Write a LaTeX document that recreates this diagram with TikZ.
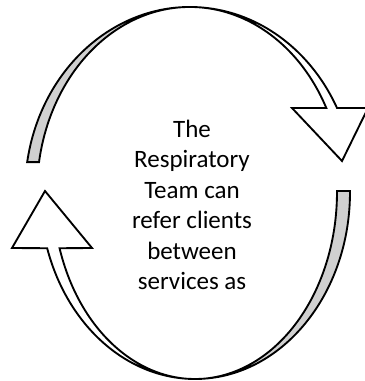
\documentclass[tikz,border=0pt]{standalone}
\usepackage{fontspec}
\setmainfont{Carlito}
\usepackage{tikz}
\definecolor{bandgray}{RGB}{208,208,208}

\begin{document}
\begin{tikzpicture}[x=0.75pt,y=-0.75pt,
  ribbon/.style={draw=black,line width=1.4pt,line join=miter},
  sideband/.style={fill=bandgray},
  every text node part/.style={align=center}]
  \fill[white] (0,0) rectangle (364,381);
  \useasboundingbox (0,0) rectangle (364,381);
  \coordinate (c1) at (190,192);
  \coordinate (c2) at (195,192);

  % upper arrow, left to right
  \fill[sideband] (c1) ++(-170.7:165 and 185)
    arc[start angle=-170.7,end angle=-90,x radius=165,y radius=185]
    arc[start angle=-90,end angle=-170.7,x radius=153,y radius=185] -- cycle;
  \draw[ribbon] (c1) ++(-170.7:165 and 185)
    arc[start angle=-170.7,end angle=-27,x radius=165,y radius=185]
    -- (368,108) -- (342,161) -- (292,108)
    -- ([shift={(c1)}]-27:153 and 185)
    arc[start angle=-27,end angle=-170.7,x radius=153,y radius=185] -- cycle;

  % lower arrow, right to left
  \fill[sideband] (c2) ++(-0.3:155 and 187)
    arc[start angle=-0.3,end angle=90,x radius=155,y radius=187]
    arc[start angle=90,end angle=-0.3,x radius=142,y radius=187] -- cycle;
  \draw[ribbon] (c2) ++(-0.3:155 and 187)
    arc[start angle=-0.3,end angle=162.5,x radius=155,y radius=187]
    -- (12,248) -- (45,191) -- (92,248)
    -- ([shift={(c2)}]162.5:142 and 187)
    arc[start angle=162.5,end angle=-0.3,x radius=142,y radius=187] -- cycle;

  \node[inner sep=0pt,font=\fontsize{18.75}{22.8}\selectfont] (msg) at (192,205)
    {The\\Respiratory\\Team can\\refer clients\\between\\services as};
\end{tikzpicture}
\end{document}
